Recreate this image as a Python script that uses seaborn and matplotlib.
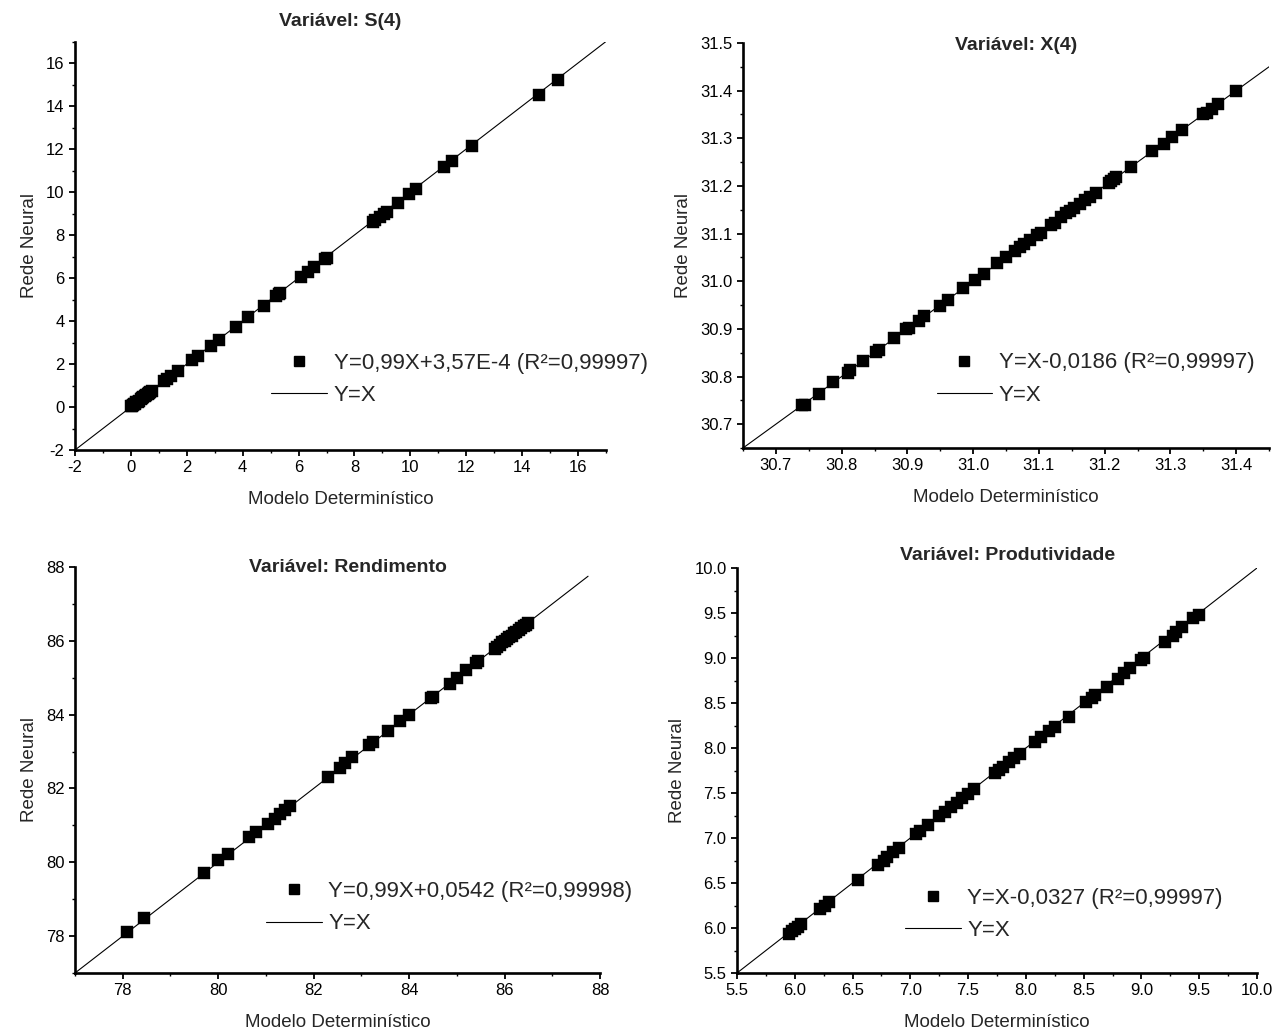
import matplotlib
matplotlib.use("Agg")
import matplotlib.pyplot as plt
import seaborn as sns
from matplotlib.ticker import MultipleLocator, FormatStrFormatter
from matplotlib.lines import Line2D

# ---------------- data ----------------
s4_x = [0.02, 0.05, 0.08, 0.12, 0.15, 0.2, 0.25, 0.3, 0.35, 0.4, 0.45, 0.5, 0.55, 0.6, 0.65,
        0.7, 0.75, 1.2, 1.3, 1.45, 1.7, 2.2, 2.4, 2.85, 3.15, 3.75, 4.2, 4.75, 5.2, 5.3, 5.35,
        6.1, 6.35, 6.55, 6.95, 7.0, 8.65, 8.75, 8.9, 9.05, 9.15, 9.55, 9.95, 10.2, 11.2, 11.5,
        12.2, 14.6, 15.3]
s4_y = [0.03, 0.06, 0.09, 0.12, 0.16, 0.21, 0.25, 0.3, 0.35, 0.4, 0.45, 0.5, 0.55, 0.6, 0.65,
        0.69, 0.74, 1.2, 1.29, 1.44, 1.69, 2.18, 2.38, 2.83, 3.13, 3.72, 4.17, 4.71, 5.16, 5.26,
        5.31, 6.05, 6.3, 6.5, 6.89, 6.94, 8.6, 8.7, 8.84, 8.98, 9.09, 9.5, 9.9, 10.14, 11.14,
        11.44, 12.15, 14.52, 15.22]

x4_x = [30.740, 30.745, 30.765, 30.787, 30.809, 30.812, 30.833, 30.853, 30.857, 30.880, 30.898,
        30.902, 30.918, 30.925, 30.950, 30.962, 30.985, 31.003, 31.016, 31.037, 31.050, 31.063,
        31.072, 31.078, 31.087, 31.097, 31.103, 31.118, 31.124, 31.133, 31.142, 31.148, 31.153,
        31.163, 31.170, 31.178, 31.187, 31.207, 31.210, 31.215, 31.218, 31.240, 31.272, 31.290,
        31.303, 31.318, 31.350, 31.355, 31.363, 31.372, 31.400]
x4_y = [30.740, 30.741, 30.764, 30.788, 30.808, 30.813, 30.832, 30.852, 30.856, 30.880, 30.899,
        30.901, 30.917, 30.926, 30.949, 30.961, 30.986, 31.002, 31.015, 31.038, 31.051, 31.064,
        31.071, 31.079, 31.086, 31.098, 31.102, 31.117, 31.123, 31.134, 31.143, 31.147, 31.154,
        31.162, 31.171, 31.177, 31.186, 31.206, 31.211, 31.214, 31.219, 31.239, 31.273, 31.289,
        31.302, 31.317, 31.351, 31.354, 31.362, 31.373, 31.400]

ren_x = [78.1, 78.45, 79.7, 80.0, 80.2, 80.65, 80.8, 81.05, 81.2, 81.3, 81.4, 81.5, 82.3, 82.55,
         82.65, 82.8, 83.15, 83.25, 83.55, 83.8, 84.0, 84.45, 84.5, 84.85, 85.0, 85.2, 85.4,
         85.45, 85.8, 85.85, 85.9, 85.95, 86.0, 86.05, 86.1, 86.15, 86.2, 86.25, 86.3, 86.35,
         86.4, 86.45, 86.5]
ren_y = [78.1, 78.48, 79.72, 80.05, 80.22, 80.68, 80.82, 81.05, 81.18, 81.3, 81.42, 81.52, 82.32,
         82.56, 82.68, 82.85, 83.18, 83.27, 83.56, 83.82, 84.0, 84.45, 84.48, 84.82, 85.0, 85.2,
         85.4, 85.44, 85.78, 85.84, 85.9, 85.96, 86.0, 86.05, 86.1, 86.14, 86.2, 86.25, 86.3,
         86.34, 86.4, 86.44, 86.48]

pro_x = [5.95, 5.98, 6.0, 6.03, 6.05, 6.22, 6.26, 6.3, 6.55, 6.72, 6.77, 6.8, 6.85, 6.9, 7.05,
         7.08, 7.15, 7.25, 7.3, 7.35, 7.4, 7.45, 7.5, 7.55, 7.73, 7.77, 7.8, 7.85, 7.9, 7.95,
         8.08, 8.13, 8.2, 8.25, 8.37, 8.52, 8.57, 8.6, 8.7, 8.8, 8.85, 8.9, 9.0, 9.02, 9.2,
         9.27, 9.3, 9.35, 9.45, 9.5]
pro_y = [5.93, 5.97, 5.99, 6.01, 6.04, 6.21, 6.25, 6.29, 6.53, 6.7, 6.75, 6.79, 6.84, 6.89, 7.04,
         7.08, 7.14, 7.24, 7.29, 7.34, 7.39, 7.44, 7.49, 7.54, 7.72, 7.76, 7.79, 7.84, 7.89,
         7.93, 8.07, 8.12, 8.19, 8.23, 8.35, 8.51, 8.56, 8.59, 8.68, 8.77, 8.83, 8.89, 8.98,
         9.0, 9.18, 9.25, 9.29, 9.34, 9.45, 9.48]

line_s4 = [-2, 17]
line_x4 = [30.65, 31.45]
line_ren = [77, 87.75]
line_pro = [5.5, 10.0]

titles = ["Variável: S(4)", "Variável: X(4)", "Variável: Rendimento", "Variável: Produtividade"]
fits = ["Y=0,99X+3,57E-4 (R²=0,99997)", "Y=X-0,0186 (R²=0,99997)",
        "Y=0,99X+0,0542 (R²=0,99998)", "Y=X-0,0327 (R²=0,99997)"]
xlabel = "Modelo Determinístico"
ylabel = "Rede Neural"

# ---------------- style ----------------
sns.set_style("ticks")
plt.rcParams['font.family'] = ['Liberation Sans', 'DejaVu Sans']
plt.rcParams['axes.unicode_minus'] = False

W, H = 1287, 1036
fig = plt.figure(figsize=(W / 100, H / 100), dpi=100)
fig.patch.set_facecolor('white')


def px_axes(x0, x1, y0, y1):
    return fig.add_axes([x0 / W, (H - y1) / H, (x1 - x0) / W, (y1 - y0) / H])


panels = [
    dict(box=(75, 606, 41.5, 450), x=s4_x, y=s4_y, line=line_s4, lim=((-2, 17), (-2, 17)),
         major=2, minor=1, fmt="%d", title=titles[0], fit=fits[0],
         tpos=(0.50, 1.05), lpos=(0.37, 0.238)),
    dict(box=(743, 1269, 43, 448), x=x4_x, y=x4_y, line=line_x4, lim=((30.65, 31.45), (30.65, 31.5)),
         major=0.1, minor=0.05, fmt="%.1f", title=titles[1], fit=fits[1],
         tpos=(0.52, 0.995), lpos=(0.368, 0.236)),
    dict(box=(75, 600, 567, 973), x=ren_x, y=ren_y, line=line_ren, lim=((77, 88), (77, 88)),
         major=2, minor=1, fmt="%d", title=titles[2], fit=fits[2],
         tpos=(0.52, 1.0), lpos=(0.364, 0.226)),
    dict(box=(737, 1257, 568, 973), x=pro_x, y=pro_y, line=line_pro, lim=((5.5, 10.0), (5.5, 10.0)),
         major=0.5, minor=0.25, fmt="%.1f", title=titles[3], fit=fits[3],
         tpos=(0.52, 1.03), lpos=(0.323, 0.211)),
]

for p in panels:
    ax = px_axes(*p['box'])
    sns.lineplot(x=p['line'], y=p['line'], ax=ax, color='black', linewidth=0.8,
                 legend=False, zorder=2)
    sns.scatterplot(x=p['x'], y=p['y'], ax=ax, marker='s', s=66, color='black',
                    edgecolor='black', linewidth=0.3, legend=False, zorder=3)
    ax.set_xlim(*p['lim'][0])
    ax.set_ylim(*p['lim'][1])
    ax.xaxis.set_major_locator(MultipleLocator(p['major']))
    ax.xaxis.set_minor_locator(MultipleLocator(p['minor']))
    ax.yaxis.set_major_locator(MultipleLocator(p['major']))
    ax.yaxis.set_minor_locator(MultipleLocator(p['minor']))
    ax.xaxis.set_major_formatter(FormatStrFormatter(p['fmt']))
    ax.yaxis.set_major_formatter(FormatStrFormatter(p['fmt']))
    sns.despine(ax=ax)
    for sp in ('left', 'bottom'):
        ax.spines[sp].set_linewidth(1.9)
        ax.spines[sp].set_color('black')
    ax.tick_params(which='major', direction='out', length=4.5, width=1.3,
                   labelsize=12, colors='black', pad=3)
    ax.tick_params(which='minor', direction='out', length=2.5, width=1.0, colors='black')
    ax.set_xlabel(xlabel, fontsize=13.5, labelpad=11)
    ax.set_ylabel(ylabel, fontsize=13.5, labelpad=6)
    ax.text(p['tpos'][0], p['tpos'][1], p['title'], transform=ax.transAxes,
            ha='center', va='center', fontsize=14, fontweight='bold')
    handles = [Line2D([], [], marker='s', linestyle='none', color='black', markersize=7.8),
               Line2D([], [], color='black', linewidth=0.8)]
    ax.legend(handles, [p['fit'], "Y=X"], loc='upper left',
              bbox_to_anchor=(p['lpos'][0], p['lpos'][1]), frameon=False, fontsize=16,
              borderpad=0, borderaxespad=0, handlelength=2.5, handletextpad=0.3,
              labelspacing=0.5)

fig.savefig("out.png", dpi=100, facecolor='white')
